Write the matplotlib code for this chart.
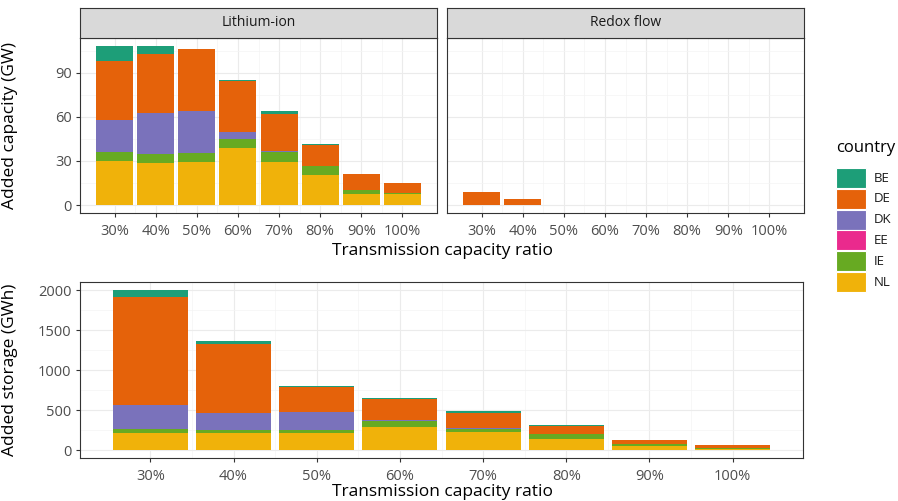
import matplotlib
matplotlib.use('Agg')
from matplotlib import pyplot as plt
from matplotlib.patches import Rectangle
import numpy as np

plt.rcParams['font.family'] = ['Open Sans', 'DejaVu Sans']

ratios = ['30%', '40%', '50%', '60%', '70%', '80%', '90%', '100%']
countries = ['BE', 'DE', 'DK', 'EE', 'IE', 'NL']
colors = {'BE': '#1d9e78', 'DE': '#e5620a', 'DK': '#7a72bb',
          'EE': '#ea2a8d', 'IE': '#67aa22', 'NL': '#f0b20a'}

# Lithium-ion added capacity (GW)
li_nl = [30.1, 28.3, 29.4, 39.1, 29.4, 20.4, 7.5, 7.5]
li_ie = [6.1, 6.3, 6.1, 6.1, 6.8, 6.3, 2.7, 0.6]
li_ee = [0, 0, 0, 0, 0, 0, 0, 0]
li_dk = [21.5, 28.1, 28.3, 4.6, 0.7, 0, 0, 0]
li_de = [40.3, 40.2, 42.1, 34.6, 25.3, 14.0, 10.6, 7.1]
li_be = [10.1, 5.2, 0.4, 0.9, 1.8, 0.7, 0.2, 0.1]

# Redox flow added capacity (GW)
rf_de = [9.0, 3.8, 0, 0, 0, 0, 0, 0]

# added storage (GWh)
st_nl = [217, 217, 217, 292, 225, 142, 50, 17]
st_ie = [50, 29, 33, 71, 42, 54, 21, 5]
st_ee = [0, 0, 0, 0, 0, 0, 0, 0]
st_dk = [293, 213, 226, 9, 3, 0, 0, 0]
st_de = [1356, 865, 317, 263, 192, 105, 50, 41]
st_be = [84, 33, 9, 16, 25, 8, 2, 1]

W, H = 898, 501
fig = plt.figure(figsize=(W / 100, H / 100), dpi=100)


def axes_px(x0, y0, x1, y1):
    return fig.add_axes([x0 / W, 1 - y1 / H, (x1 - x0) / W, (y1 - y0) / H])


def style(ax, yticks, ylim):
    x = np.arange(len(ratios))
    ax.set_xlim(-0.845, len(ratios) - 1 + 0.845)
    ax.set_ylim(*ylim)
    ax.set_xticks(x)
    ax.set_xticklabels(ratios)
    ax.set_xticks(x[:-1] + 0.5, minor=True)
    ax.set_yticks(yticks)
    ax.set_yticks(np.array(yticks[:-1]) + (yticks[1] - yticks[0]) / 2, minor=True)
    ax.grid(which='major', color='#ebebeb', lw=0.8)
    ax.grid(which='minor', color='#f4f4f4', lw=0.5)
    ax.set_axisbelow(True)
    ax.tick_params(which='major', length=3, width=0.8, color='#333333',
                   labelcolor='#4d4d4d', labelsize=10.5, pad=3)
    ax.tick_params(axis='x', which='major', pad=5)
    ax.tick_params(which='minor', length=0)
    for s in ax.spines.values():
        s.set_color('#333333')
        s.set_linewidth(0.8)


def stack(ax, layers):
    x = np.arange(len(ratios))
    bottom = np.zeros(len(ratios))
    for c, vals in layers:
        vals = np.array(vals, dtype=float)
        ax.bar(x, vals, bottom=bottom, width=0.9, color=colors[c], lw=0)
        bottom += vals


def strip(ax, text):
    p = ax.get_position()
    sax = fig.add_axes([p.x0, p.y1, p.width, 30 / H])
    sax.set_facecolor('#d9d9d9')
    sax.set_xticks([])
    sax.set_yticks([])
    for s in sax.spines.values():
        s.set_color('#333333')
        s.set_linewidth(0.8)
    sax.text(0.5, 0.5, text, ha='center', va='center', fontsize=10,
             color='#1a1a1a', transform=sax.transAxes)


# top left: Lithium-ion
ax1 = axes_px(80, 38, 437, 213)
stack(ax1, [('NL', li_nl), ('IE', li_ie), ('EE', li_ee), ('DK', li_dk),
            ('DE', li_de), ('BE', li_be)])
style(ax1, [0, 30, 60, 90], (-5.4, 113.5))
ax1.set_yticks([15, 45, 75, 105], minor=True)
ax1.set_ylabel('Added capacity (GW)', fontsize=12.5)
ax1.yaxis.set_label_coords((18 - 80) / 357, 0.5)
strip(ax1, 'Lithium-ion')

# top right: Redox flow
ax2 = axes_px(447, 38, 804, 213)
stack(ax2, [('DE', rf_de)])
style(ax2, [0, 30, 60, 90], (-5.4, 113.5))
ax2.set_yticks([15, 45, 75, 105], minor=True)
ax2.tick_params(axis='y', which='both', length=0, labelleft=False)
strip(ax2, 'Redox flow')

fig.text(442 / W, 1 - 251 / H, 'Transmission capacity ratio', ha='center',
         va='center', fontsize=12.5)

# bottom: storage
ax3 = axes_px(80, 282, 803, 458)
stack(ax3, [('NL', st_nl), ('IE', st_ie), ('EE', st_ee), ('DK', st_dk),
            ('DE', st_de), ('BE', st_be)])
style(ax3, [0, 500, 1000, 1500, 2000], (-100, 2100))
ax3.set_ylabel('Added storage (GWh)', fontsize=12.5)
ax3.yaxis.set_label_coords((18 - 80) / 723, 0.5)
fig.text(442 / W, 1 - 492 / H, 'Transmission capacity ratio', ha='center',
         va='center', fontsize=12.5)

# legend, drawn by hand so the keys get the ggplot size
fig.text(836 / W, 1 - 148 / H, 'country', ha='left', va='center', fontsize=12)
for i, c in enumerate(countries):
    top = 168 + i * 20.8
    fig.patches.append(Rectangle((836 / W, 1 - (top + 20) / H), 30 / W, 20 / H,
                                 facecolor=colors[c], edgecolor='white', lw=0.8,
                                 transform=fig.transFigure, figure=fig))
    fig.text(874 / W, 1 - (top + 10) / H, c, ha='left', va='center',
             fontsize=9.5, color='#1a1a1a')

fig.savefig('out.png', dpi=100)
